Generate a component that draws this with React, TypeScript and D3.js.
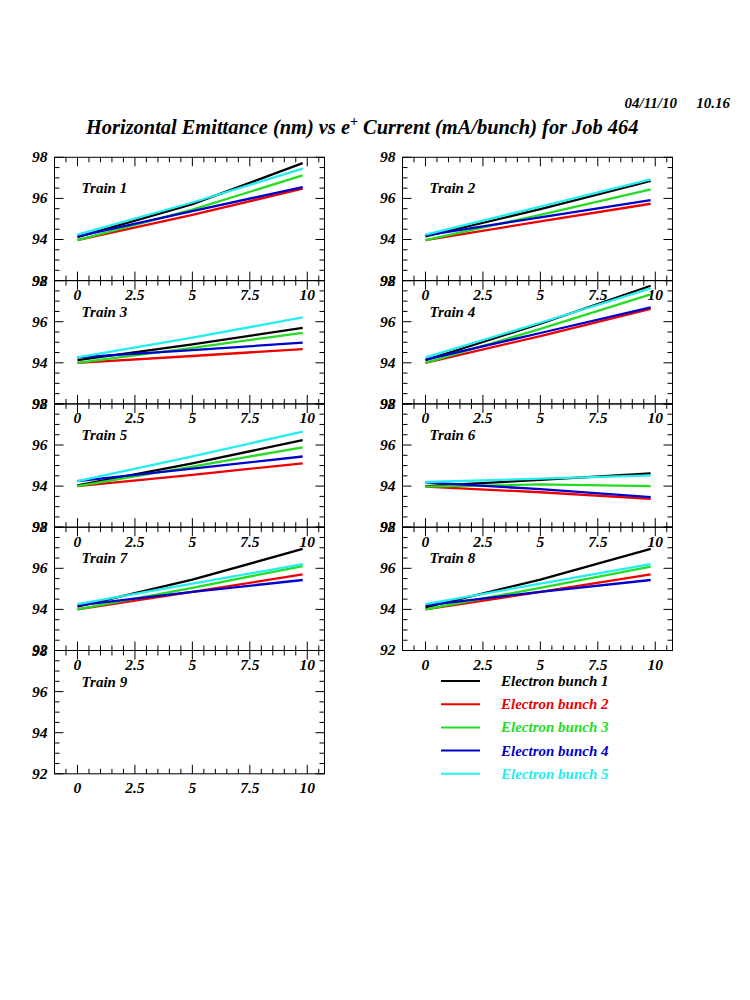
import React from "react";
import * as d3 from "d3";

// ---------- data ----------
const currents = [0, 5, 9.8]; // mA/bunch
const bunchNames = ["Electron bunch 1", "Electron bunch 2", "Electron bunch 3", "Electron bunch 4", "Electron bunch 5"];
const bunchColors = ["#000000", "#ee0000", "#22dd22", "#0000cc", "#22eeee"];
const trainNames = ["Train 1", "Train 2", "Train 3", "Train 4", "Train 5", "Train 6", "Train 7", "Train 8", "Train 9"];

// emittance (nm) per bunch at each current
const train1 = [
  [94.12, 95.72, 97.72],
  [93.97, 95.2, 96.47],
  [93.97, 95.45, 97.12],
  [94.15, 95.38, 96.55],
  [94.24, 95.8, 97.45],
];
const train2 = [
  [94.15, 95.48, 96.85],
  [93.97, 94.88, 95.74],
  [93.97, 95.2, 96.44],
  [94.2, 95.08, 95.92],
  [94.24, 95.6, 96.93],
];
const train3 = [
  [94.13, 94.9, 95.7],
  [94.0, 94.33, 94.67],
  [94.0, 94.73, 95.46],
  [94.26, 94.62, 94.98],
  [94.26, 95.22, 96.21],
];
const train4 = [
  [94.13, 95.9, 97.75],
  [94.0, 95.3, 96.62],
  [94.0, 95.65, 97.33],
  [94.16, 95.45, 96.7],
  [94.26, 95.95, 97.62],
];
const train5 = [
  [94.03, 95.1, 96.24],
  [94.0, 94.55, 95.11],
  [94.0, 94.95, 95.89],
  [94.24, 94.85, 95.44],
  [94.24, 95.45, 96.65],
];
const train6 = [
  [94.0, 94.3, 94.62],
  [93.97, 93.7, 93.38],
  [93.97, 94.08, 94.0],
  [94.18, 93.85, 93.46],
  [94.2, 94.36, 94.52],
];
const train7 = [
  [94.13, 95.45, 96.94],
  [94.0, 94.85, 95.7],
  [94.0, 95.05, 96.11],
  [94.2, 94.85, 95.43],
  [94.26, 95.25, 96.2],
];
const train8 = [
  [94.1, 95.45, 96.94],
  [94.0, 94.85, 95.7],
  [94.0, 95.05, 96.08],
  [94.2, 94.85, 95.43],
  [94.26, 95.25, 96.2],
];
const train9: number[][] = [];
const trains = [train1, train2, train3, train4, train5, train6, train7, train8, train9];

const yMajorTicks = [92, 94, 96, 98];
const xMajorTicks = [0, 2.5, 5, 7.5, 10];
const xTickLabels = ["0", "2.5", "5", "7.5", "10"];
const titleMain = "Horizontal Emittance (nm) vs e";
const titleSup = "+";
const titleRest = " Current (mA/bunch) for Job 464";
const dateText = "04/11/10";
const timeText = "10.16";

// ---------- layout ----------
const FONT = "'Liberation Serif', 'Times New Roman', serif";
const PW = 270;
const PH = 123.3;
const colLeft = [54.5, 402.5];
const top0 = 157.3;

const xScale = d3.scaleLinear().domain([-1, 10.75]).range([0, PW]);
const yScale = d3.scaleLinear().domain([92, 98]).range([PH, 0]);
const xMinor = d3.range(-0.5, 10.75, 0.5);
const yMinor = d3.range(92, 98.01, 0.5);

const lineGen = d3
  .line<number>()
  .x((_, i) => xScale(currents[i]))
  .y((d) => yScale(d));

function Panel({ idx }: { idx: number }) {
  const col = idx % 2;
  const row = Math.floor(idx / 2);
  const x0 = colLeft[col];
  const y0 = top0 + row * PH;
  const data = trains[idx];
  const isMajX = (v: number) => xMajorTicks.some((t) => Math.abs(t - v) < 1e-6);
  const isMajY = (v: number) => yMajorTicks.some((t) => Math.abs(t - v) < 1e-6);
  return (
    <g transform={`translate(${x0},${y0})`}>
      {data.map((series, b) => (
        <path key={b} d={lineGen(series) || ""} fill="none" stroke={bunchColors[b]} strokeWidth={2.3} />
      ))}
      <rect x={0} y={0} width={PW} height={PH} fill="none" stroke="#000" strokeWidth={1} />
      {xMinor.map((v) => {
        const L = isMajX(v) ? 9 : 5;
        const x = xScale(v);
        return (
          <g key={"x" + v}>
            <line x1={x} x2={x} y1={PH} y2={PH - L} stroke="#000" strokeWidth={1} />
            <line x1={x} x2={x} y1={0} y2={L} stroke="#000" strokeWidth={1} />
          </g>
        );
      })}
      {yMinor.map((v) => {
        const L = isMajY(v) ? 9 : 5;
        const y = yScale(v);
        return (
          <g key={"y" + v}>
            <line x1={0} x2={L} y1={y} y2={y} stroke="#000" strokeWidth={1} />
            <line x1={PW} x2={PW - L} y1={y} y2={y} stroke="#000" strokeWidth={1} />
          </g>
        );
      })}
      {yMajorTicks.map((v) => (
        <text key={"yl" + v} x={-7} y={yScale(v) + 5} textAnchor="end" fontSize={15.5}>
          {v}
        </text>
      ))}
      {xMajorTicks.map((v, i) => (
        <text key={"xl" + v} x={xScale(v)} y={PH + 19.5} textAnchor="middle" fontSize={15.5}>
          {xTickLabels[i]}
        </text>
      ))}
      <text x={27} y={36} fontSize={15}>
        {trainNames[idx]}
      </text>
    </g>
  );
}

export default function App() {
  return (
    <svg
      width={750}
      height={1000}
      style={{ position: "absolute", left: 0, top: 0, background: "#fff" }}
      fontFamily={FONT}
      fontWeight="bold"
      fontStyle="italic"
    >
      <rect x={0} y={0} width={750} height={1000} fill="#fff" />
      <text x={677} y={108} textAnchor="end" fontSize={15}>
        {dateText}
      </text>
      <text x={730} y={108} textAnchor="end" fontSize={15}>
        {timeText}
      </text>
      <text x={86} y={134} fontSize={20.4}>
        {titleMain}
        <tspan dy={-8} fontSize={14}>{titleSup}</tspan>
        <tspan dy={8}>{titleRest}</tspan>
      </text>
      {trains.map((_, i) => (
        <Panel key={i} idx={i} />
      ))}
      {bunchNames.map((name, i) => {
        const y = 681 + i * 23.2;
        return (
          <g key={name}>
            <line x1={441} x2={480} y1={y} y2={y} stroke={bunchColors[i]} strokeWidth={2} />
            <text x={501} y={y + 5} fontSize={15} fill={bunchColors[i]}>
              {name}
            </text>
          </g>
        );
      })}
    </svg>
  );
}
